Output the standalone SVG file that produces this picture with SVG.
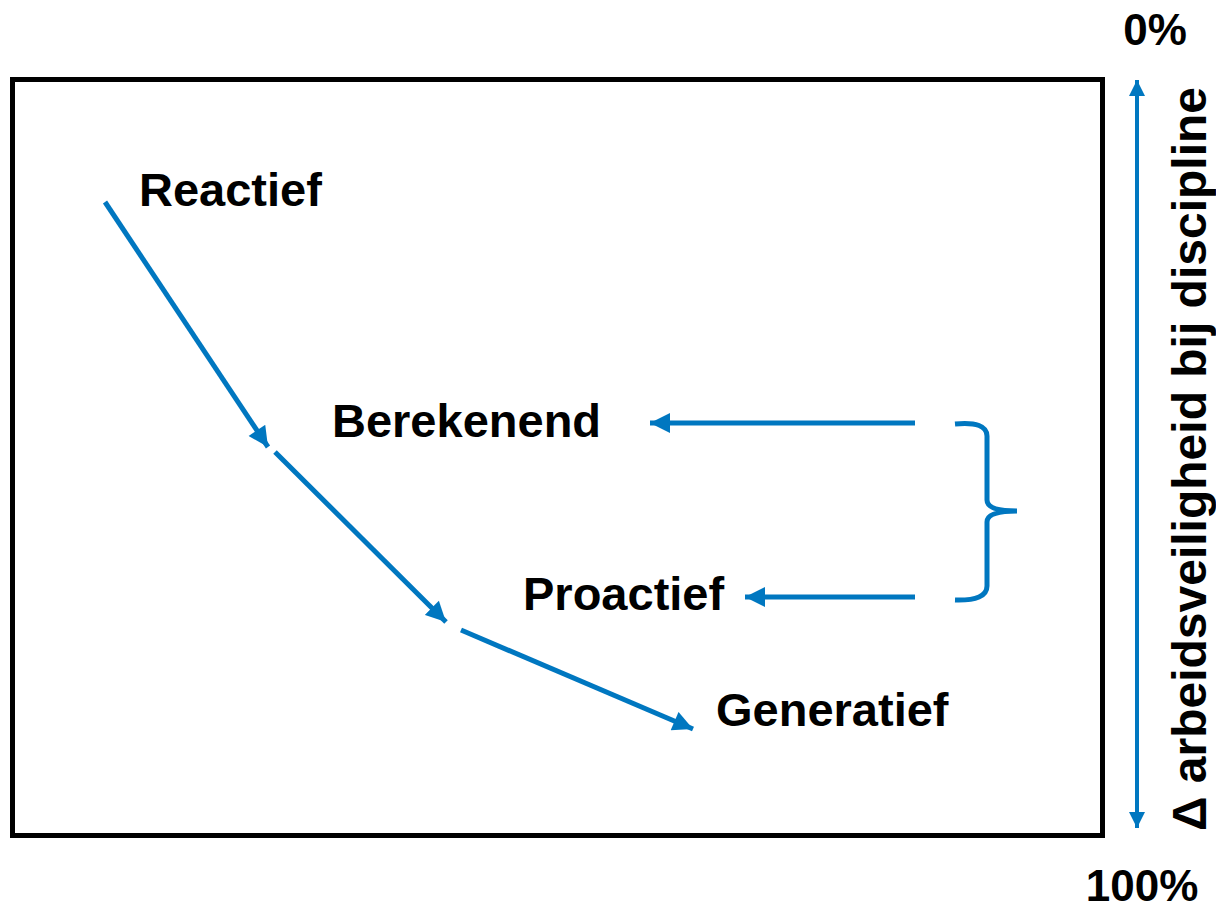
<svg xmlns="http://www.w3.org/2000/svg" width="1216" height="909" viewBox="0 0 1216 909">
<style>
.lbl{font-family:"Liberation Sans",Arial,sans-serif;font-weight:bold;fill:#000;}
.con{stroke:#0077c0;stroke-width:5;fill:none;}
</style>
<defs>
<marker id="ah" viewBox="0 0 10 10" refX="10" refY="5" markerWidth="4.2" markerHeight="4" orient="auto-start-reverse" markerUnits="strokeWidth">
<path d="M0,0 L10,5 L0,10 Z" fill="#0077c0"/>
</marker>
</defs>
<rect id="frame" x="12.5" y="79.5" width="1090" height="756" fill="none" stroke="#000" stroke-width="5"/>
<g id="connectors">
<line class="con" x1="105" y1="202" x2="268" y2="447" marker-end="url(#ah)"/>
<line class="con" x1="275" y1="452" x2="446" y2="622" marker-end="url(#ah)"/>
<line class="con" x1="461" y1="630" x2="693" y2="729" marker-end="url(#ah)"/>
<line class="con" x1="915" y1="423" x2="650" y2="423" marker-end="url(#ah)"/>
<line class="con" x1="915" y1="597" x2="745" y2="597" marker-end="url(#ah)"/>
<path class="con" d="M955,424 Q987,421 987,436 L987,500 Q987,511 1017,511 Q987,511 987,522 L987,586 Q987,601 955,600"/>
<line class="con" style="stroke-width:4" x1="1137" y1="80" x2="1137" y2="828" marker-start="url(#ah)" marker-end="url(#ah)"/>
</g>
<g id="reactief"><text class="lbl" x="139" y="206" font-size="47">Reactief</text></g>
<g id="berekenend"><text class="lbl" x="332" y="437" font-size="47">Berekenend</text></g>
<g id="proactief"><text class="lbl" x="523" y="610" font-size="47">Proactief</text></g>
<g id="generatief"><text class="lbl" x="716" y="726" font-size="47">Generatief</text></g>
<g id="top-label"><text class="lbl" x="1155" y="45" font-size="44" text-anchor="middle">0%</text></g>
<g id="bottom-label"><text class="lbl" x="1142" y="901" font-size="44" text-anchor="middle">100%</text></g>
<g id="axis-label"><text class="lbl" transform="translate(1206,459) rotate(-90)" font-size="48" text-anchor="middle">Δ arbeidsveiligheid bij discipline</text></g>
</svg>
